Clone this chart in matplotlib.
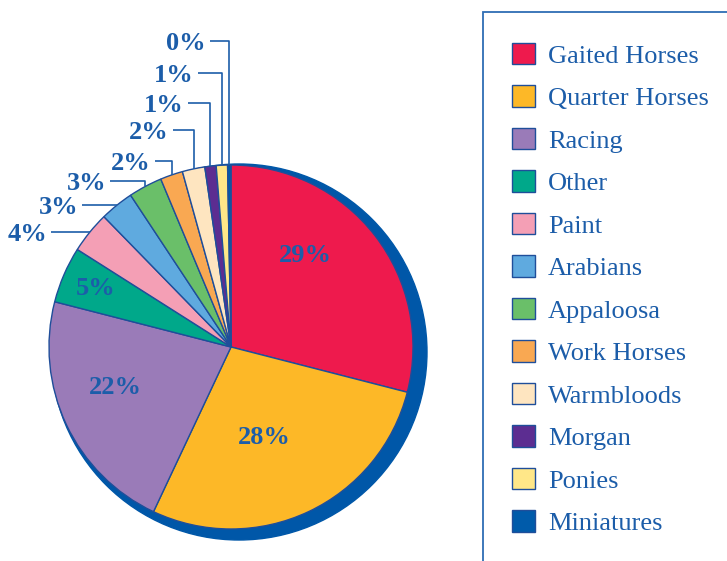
import numpy as np
import matplotlib
matplotlib.use("Agg")
import matplotlib.pyplot as plt
from matplotlib.patches import Circle, Rectangle

# ---------------------------------------------------------------------------
# Data
# ---------------------------------------------------------------------------
breeds = ["Gaited Horses", "Quarter Horses", "Racing", "Other", "Paint",
          "Arabians", "Appaloosa", "Work Horses", "Warmbloods", "Morgan",
          "Ponies", "Miniatures"]
shares = [29.0, 28.0, 22.0, 5.0, 3.7, 3.0, 3.0, 2.0, 2.0, 1.0, 1.0, 0.3]
colors = ["#EE1A4D", "#FDB827", "#9A7BB8", "#00A88A", "#F49FB5", "#5FAADF",
          "#6ABF69", "#F9A852", "#FEE5C0", "#5C2D91", "#FFE788", "#005BAA"]

TEXT = "#1C5DA9"
EDGE = "#1F4E9A"
SHADOW = "#0057A8"

W, H = 727, 561
fig = plt.figure(figsize=(W / 100, H / 100), dpi=100)
ax = fig.add_axes([0, 0, 1, 1])

cx, cy, r = 231, H - 347, 182

# drop shadow behind the pie
ax.add_patch(Circle((cx + 8, cy - 5), r + 6, color=SHADOW, zorder=1))

wedges, _ = ax.pie(shares, colors=colors, startangle=90, counterclock=False,
                   center=(cx, cy), radius=r, frame=True,
                   wedgeprops=dict(edgecolor=EDGE, linewidth=1.0, zorder=2))
ax.set_xlim(0, W)
ax.set_ylim(0, H)
ax.set_aspect("equal")
ax.axis("off")

labels = [f"{round(s):d}%" for s in shares]
font = dict(family="Liberation Serif", fontweight="bold", color=TEXT, fontsize=19)

# big slices: label inside (radius fraction, angle nudge in degrees)
inner_pos = [(0.65, 13), (0.53, -5), (0.67, -6), (0.81, 0)]
for w, lab, (f, da) in zip(wedges[:4], labels[:4], inner_pos):
    ang = np.deg2rad((w.theta1 + w.theta2) / 2 + da)
    ax.text(cx + f * r * np.cos(ang), cy + f * r * np.sin(ang), lab,
            ha="center", va="center", zorder=5, **font)

# small slices: elbow leader lines, labels stacked up the left side
label_y = [238, 208, 181, 161, 130, 103, 73, 41]      # Paint .. Miniatures
label_right = [47, 78, 106, 151, 169, 184, 194, 206]
for w, lab, ly, lx in zip(wedges[4:], labels[4:], label_y, label_right):
    ang = np.deg2rad((w.theta1 + w.theta2) / 2)
    ex, ey = cx + r * np.cos(ang), cy + r * np.sin(ang)
    ly = H - ly
    if ly < ey:
        ly = ey
    ax.plot([lx + 4, ex, ex], [ly, ly, ey], color=TEXT, lw=1.2,
            zorder=3, solid_capstyle="butt")
    ax.text(lx, ly - 2, lab, ha="right", va="center", zorder=5, **font)

# legend frame runs off the right and bottom edges
ax.add_patch(Rectangle((483, -20), 300, H - 12 + 20, fill=False,
                       edgecolor="#2E6DB4", lw=1.3, zorder=1, clip_on=False))

leg = ax.legend(wedges, breeds, loc="upper left",
                bbox_to_anchor=(512 / W, 1 - 43 / H), borderaxespad=0,
                frameon=False, handlelength=0.87, handleheight=0.87,
                handletextpad=0.5, labelspacing=0.67, borderpad=0,
                prop=dict(family="Liberation Serif", size=19))
for t in leg.get_texts():
    t.set_color(TEXT)

fig.savefig("out.png", dpi=100)
